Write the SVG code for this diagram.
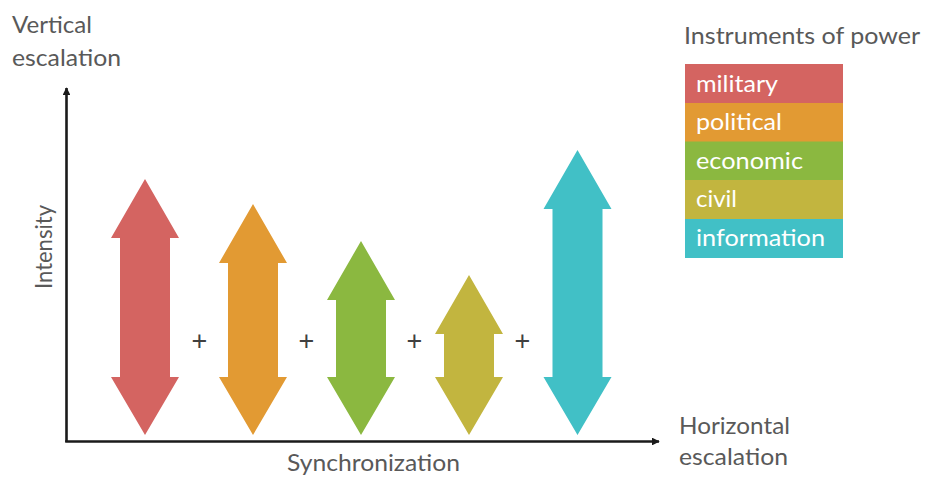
<svg xmlns="http://www.w3.org/2000/svg" width="925" height="477" viewBox="0 0 925 477">
<defs>
<style>
.lbl{font-family:Lato,"Open Sans","Liberation Sans",sans-serif;font-size:23px;fill:#595959}
.leg{font-family:Lato,"Open Sans","Liberation Sans",sans-serif;font-size:23px;fill:#ffffff}
.plus{font-family:"Liberation Sans",sans-serif;font-size:27px;fill:#404040;text-anchor:middle}
.axis{stroke:#1a1a1a;stroke-width:2.6;fill:none}
</style>
<marker id="ah" viewBox="0 0 10 10" refX="9" refY="5" markerWidth="3" markerHeight="3" orient="auto" markerUnits="strokeWidth">
<path d="M0,0 L10,5 L0,10 Z" fill="#1a1a1a"/>
</marker>
</defs>
<rect width="925" height="477" fill="#ffffff"/>

<g id="axes-labels">
<text class="lbl" x="12" y="33" textLength="80" lengthAdjust="spacingAndGlyphs">Vertical</text>
<text class="lbl" x="12" y="66" textLength="109" lengthAdjust="spacingAndGlyphs">escalation</text>
<text class="lbl" x="679" y="434" textLength="111" lengthAdjust="spacingAndGlyphs">Horizontal</text>
<text class="lbl" x="679" y="465" textLength="109" lengthAdjust="spacingAndGlyphs">escalation</text>
<text class="lbl" x="287" y="471" textLength="173" lengthAdjust="spacingAndGlyphs">Synchronization</text>
<text class="lbl" transform="translate(52,289) rotate(-90)" x="0" y="0" textLength="84" lengthAdjust="spacingAndGlyphs">Intensity</text>
</g>

<g id="connectors">
<line class="axis" x1="66.5" y1="442" x2="66.5" y2="88" marker-end="url(#ah)"/>
<line class="axis" x1="65.2" y1="441.5" x2="659" y2="441.5" marker-end="url(#ah)"/>
</g>

<g id="arrow-military">
<path d="M145,179 L179,238 L170,238 L170,377 L179,377 L145,435 L111,377 L120,377 L120,238 L111,238 Z" fill="#D46461"/>
</g>
<g id="arrow-political">
<path d="M253,204 L287,263 L278,263 L278,377 L287,377 L253,435 L219,377 L228,377 L228,263 L219,263 Z" fill="#E29A33"/>
</g>
<g id="arrow-economic">
<path d="M361,241 L395,300 L386,300 L386,377 L395,377 L361,435 L327,377 L336,377 L336,300 L327,300 Z" fill="#8BB840"/>
</g>
<g id="arrow-civil">
<path d="M469,275 L503,334 L494,334 L494,377 L503,377 L469,435 L435,377 L444,377 L444,334 L435,334 Z" fill="#C2B53F"/>
</g>
<g id="arrow-information">
<path d="M577.5,150 L611.5,209 L602.5,209 L602.5,377 L611.5,377 L577.5,435 L543.5,377 L552.5,377 L552.5,209 L543.5,209 Z" fill="#41C0C6"/>
</g>

<g id="plus-signs">
<text class="plus" x="199.5" y="350">+</text>
<text class="plus" x="306.5" y="350">+</text>
<text class="plus" x="414.5" y="350">+</text>
<text class="plus" x="522.5" y="350">+</text>
</g>

<g id="legend">
<text class="lbl" x="684" y="44" textLength="236" lengthAdjust="spacingAndGlyphs">Instruments of power</text>
<g id="legend-military">
<rect x="685" y="64" width="158" height="39.5" fill="#D46461"/>
<text class="leg" x="696" y="91.5" textLength="82" lengthAdjust="spacingAndGlyphs">military</text>
</g>
<g id="legend-political">
<rect x="685" y="103" width="158" height="39" fill="#E29A33"/>
<text class="leg" x="696" y="130" textLength="86" lengthAdjust="spacingAndGlyphs">political</text>
</g>
<g id="legend-economic">
<rect x="685" y="141.5" width="158" height="39" fill="#8BB840"/>
<text class="leg" x="696" y="168.5" textLength="107" lengthAdjust="spacingAndGlyphs">economic</text>
</g>
<g id="legend-civil">
<rect x="685" y="180" width="158" height="39.5" fill="#C2B53F"/>
<text class="leg" x="696" y="207" textLength="41" lengthAdjust="spacingAndGlyphs">civil</text>
</g>
<g id="legend-information">
<rect x="685" y="219" width="158" height="39" fill="#41C0C6"/>
<text class="leg" x="696" y="245.5" textLength="129" lengthAdjust="spacingAndGlyphs">information</text>
</g>
</g>
</svg>
